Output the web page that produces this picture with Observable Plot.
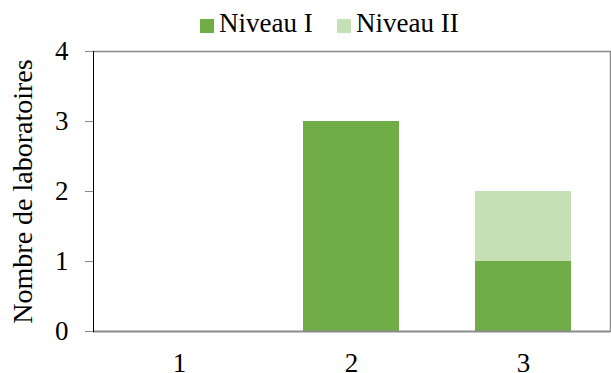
<!DOCTYPE html>
<html>
<head>
<meta charset="utf-8">
<script src="https://cdn.jsdelivr.net/npm/d3@7"></script>
<script src="https://cdn.jsdelivr.net/npm/@observablehq/plot@0.6"></script>
<style>
  html, body { margin: 0; padding: 0; background: #fff; }
  #wrap { width: 611px; height: 373px; position: relative; font-family: "Liberation Serif", "Times New Roman", serif; }
  #legend { position: relative; width: 611px; height: 40px; }
  .sw { position: absolute; width: 14px; height: 14px; top: 19px; }
  .lt { position: absolute; top: 10px; font-size: 27px; line-height: 27px; color: #000; white-space: nowrap; }
  svg { display: block; }
</style>
</head>
<body>
<div id="wrap">
  <div id="legend"></div>
  <div id="chart"></div>
</div>
<script>
const categories = ["1", "2", "3"];
const series = ["Niveau I", "Niveau II"];
const niveauI = [0, 3, 1];
const niveauII = [0, 0, 1];
const colors = ["#70AD47", "#C5E0B4"];
const yTicks = [0, 1, 2, 3, 4];

const data = [];
categories.forEach((c, i) => {
  data.push({cat: c, serie: series[0], value: niveauI[i]});
  data.push({cat: c, serie: series[1], value: niveauII[i]});
});

// legend
const legend = document.getElementById("legend");
const legendPos = [200, 337];
series.forEach((s, i) => {
  const sw = document.createElement("div");
  sw.className = "sw";
  sw.style.left = legendPos[i] + "px";
  sw.style.background = colors[i];
  legend.appendChild(sw);
  const t = document.createElement("div");
  t.className = "lt";
  t.style.left = (legendPos[i] + 19) + "px";
  t.textContent = s;
  legend.appendChild(t);
});

const chart = Plot.plot({
  width: 611,
  height: 333,
  marginTop: 11,
  marginBottom: 42,
  marginLeft: 93,
  marginRight: 1,
  style: {fontFamily: "Liberation Serif, Times New Roman, serif", fontSize: "27px", color: "#000", background: "#fff", overflow: "visible"},
  x: {domain: categories, paddingInner: 0.44, paddingOuter: 0.22, align: 0.5},
  y: {domain: [0, 4]},
  color: {domain: series, range: colors},
  marks: [
    Plot.barY(data, {x: "cat", y: "value", fill: "serie", order: series}),
    Plot.ruleY([4], {stroke: "#8a8a8a", strokeWidth: 1.5}),
    Plot.ruleY([0], {stroke: "#8a8a8a", strokeWidth: 2}),
    Plot.frame({anchor: "right", stroke: "#8a8a8a", strokeWidth: 1.5}),
    Plot.frame({anchor: "left", stroke: "#000", strokeWidth: 1}),
    Plot.axisY({ticks: yTicks, tickFormat: "d", tickSize: 8, tickPadding: 17, stroke: "#8a8a8a", fill: "#000", label: null}),
    Plot.axisY({ticks: [], tickSize: 0, fontSize: 28, fill: "#000",
      label: "Nombre de laboratoires", labelAnchor: "center", labelArrow: "none", labelOffset: 81}),
    Plot.axisX({tickSize: 0, tickPadding: 21, fill: "#000", label: null})
  ]
});
document.getElementById("chart").appendChild(chart);
</script>
</body>
</html>
